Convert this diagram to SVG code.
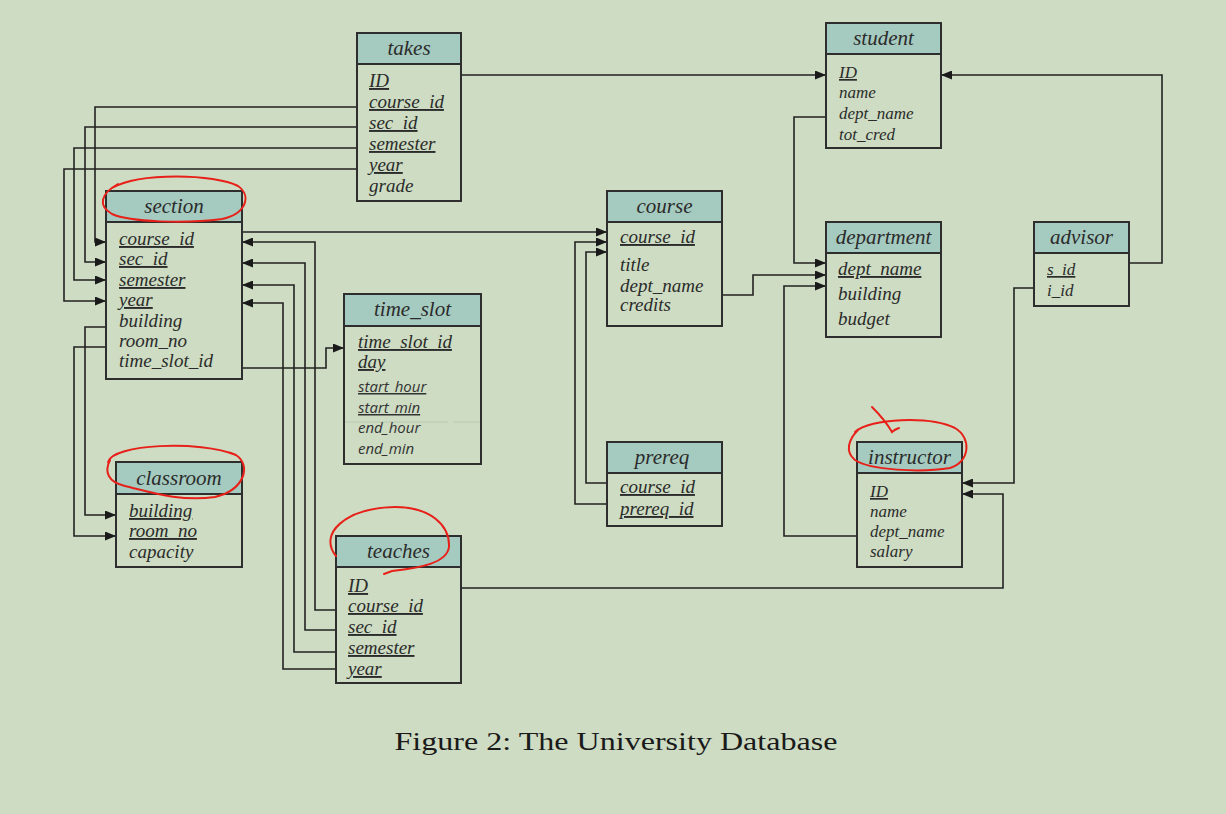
<svg xmlns="http://www.w3.org/2000/svg" width="1226" height="814" viewBox="0 0 1226 814">
<style>
.bx{fill:none;stroke:#2e2e2e;stroke-width:2}
.hd{fill:#a5cabf;stroke:#2e2e2e;stroke-width:2}
.t{font-family:"Liberation Serif",serif;font-style:italic;fill:#2b2b2b}
.ttl{font-size:21px;text-anchor:middle}
.r{font-size:19px}
.s{font-size:17px}
.u{text-decoration:underline}
.sans{font-family:"Open Sans",sans-serif;font-style:italic;font-size:15px;fill:#333}
.c{fill:none;stroke:#222;stroke-width:1.6;marker-end:url(#ah)}
.cn{fill:none;stroke:#222;stroke-width:1.6}
.red{fill:none;stroke:#e8201a;stroke-width:2;stroke-linecap:round}
.cap{font-family:"Liberation Serif",serif;font-size:26px;fill:#1a1a1a}
</style>
<defs>
<marker id="ah" markerUnits="userSpaceOnUse" markerWidth="11" markerHeight="9" refX="11" refY="4.5" orient="auto">
<path d="M0,0 L11,4.5 L0,9 z" fill="#1a1a1a"/>
</marker>
</defs>
<rect x="0" y="0" width="1226" height="814" fill="#cddcc2"/>

<g id="connectors">
<path class="c" d="M461,75 H826"/>
<path class="c" d="M357,107 H95 V242 H106"/>
<path class="c" d="M357,127 H85 V262 H106"/>
<path class="c" d="M357,148 H74 V280 H106"/>
<path class="c" d="M357,169 H64 V301 H106"/>
<path class="c" d="M242,232 H607"/>
<path class="c" d="M607,504 H575 V242 H607"/>
<path class="c" d="M607,483 H586 V252 H607"/>
<path class="c" d="M336,610 H315 V242 H242"/>
<path class="c" d="M336,630 H305 V263 H242"/>
<path class="c" d="M336,652 H294 V285 H242"/>
<path class="c" d="M336,669 H283 V303 H242"/>
<path class="c" d="M242,368 H326 V348 H344"/>
<path class="c" d="M106,327 H85 V515 H116"/>
<path class="c" d="M106,347 H74 V536 H116"/>
<path class="c" d="M826,117 H794 V263 H826"/>
<path class="c" d="M722,295 H753 V275 H826"/>
<path class="c" d="M857,536 H784 V286 H826"/>
<path class="c" d="M1129,263 H1162 V75 H941"/>
<path class="c" d="M1034,288 H1014 V483 H962"/>
<path class="c" d="M461,588 H1003 V494 H962"/>
</g>

<g id="takes">
<rect class="bx" x="357" y="33" width="104" height="168"/>
<rect class="hd" x="357" y="33" width="104" height="31"/>
<text class="t ttl" x="409" y="55">takes</text>
<text class="t r u" x="369" y="87">ID</text>
<text class="t r u" x="369" y="108">course_id</text>
<text class="t r u" x="369" y="129">sec_id</text>
<text class="t r u" x="369" y="150">semester</text>
<text class="t r u" x="369" y="171">year</text>
<text class="t r" x="369" y="192">grade</text>
</g>

<g id="student">
<rect class="bx" x="826" y="23" width="115" height="125"/>
<rect class="hd" x="826" y="23" width="115" height="31"/>
<text class="t ttl" x="883.5" y="45">student</text>
<text class="t s u" x="839" y="78">ID</text>
<text class="t s" x="839" y="98">name</text>
<text class="t s" x="839" y="119">dept_name</text>
<text class="t s" x="839" y="140">tot_cred</text>
</g>

<g id="section">
<rect class="bx" x="106" y="191" width="136" height="188"/>
<rect class="hd" x="106" y="191" width="136" height="31"/>
<text class="t ttl" x="174" y="213">section</text>
<text class="t r u" x="119" y="245">course_id</text>
<text class="t r u" x="119" y="265">sec_id</text>
<text class="t r u" x="119" y="286">semester</text>
<text class="t r u" x="119" y="306">year</text>
<text class="t r" x="119" y="327">building</text>
<text class="t r" x="119" y="347">room_no</text>
<text class="t r" x="119" y="367">time_slot_id</text>
</g>

<g id="time_slot">
<rect class="bx" x="344" y="294" width="137" height="170"/>
<rect class="hd" x="344" y="294" width="137" height="32"/>
<text class="t ttl" x="412.5" y="316">time_slot</text>
<text class="t r u" x="358" y="348">time_slot_id</text>
<text class="t r u" x="358" y="368">day</text>
<text class="sans u" x="358" y="392">start_hour</text>
<text class="sans u" x="358" y="413">start_min</text>
<line x1="345" y1="422" x2="448" y2="422" stroke="#b9c8b2" stroke-width="1"/>
<line x1="453" y1="422" x2="480" y2="422" stroke="#b9c8b2" stroke-width="1"/>
<text class="sans" x="358" y="433">end_hour</text>
<text class="sans" x="358" y="454">end_min</text>
</g>

<g id="classroom">
<rect class="bx" x="116" y="462" width="126" height="105"/>
<rect class="hd" x="116" y="462" width="126" height="32"/>
<text class="t ttl" x="179" y="485">classroom</text>
<text class="t r u" x="129" y="517">building</text>
<text class="t r u" x="129" y="537">room_no</text>
<text class="t r" x="129" y="558">capacity</text>
</g>

<g id="teaches">
<rect class="bx" x="336" y="536" width="125" height="147"/>
<rect class="hd" x="336" y="536" width="125" height="31"/>
<text class="t ttl" x="398.5" y="558">teaches</text>
<text class="t r u" x="348" y="592">ID</text>
<text class="t r u" x="348" y="612">course_id</text>
<text class="t r u" x="348" y="633">sec_id</text>
<text class="t r u" x="348" y="654">semester</text>
<text class="t r u" x="348" y="675">year</text>
</g>

<g id="course">
<rect class="bx" x="607" y="191" width="115" height="135"/>
<rect class="hd" x="607" y="191" width="115" height="31"/>
<text class="t ttl" x="664.5" y="213">course</text>
<text class="t r u" x="620" y="243">course_id</text>
<text class="t r" x="620" y="271">title</text>
<text class="t r" x="620" y="292">dept_name</text>
<text class="t r" x="620" y="311">credits</text>
</g>

<g id="prereq">
<rect class="bx" x="607" y="442" width="115" height="84"/>
<rect class="hd" x="607" y="442" width="115" height="31"/>
<text class="t ttl" x="662" y="464">prereq</text>
<text class="t r u" x="620" y="493">course_id</text>
<text class="t r u" x="620" y="515">prereq_id</text>
</g>

<g id="department">
<rect class="bx" x="826" y="222" width="115" height="115"/>
<rect class="hd" x="826" y="222" width="115" height="31"/>
<text class="t ttl" x="883.5" y="244">department</text>
<text class="t r u" x="838" y="275">dept_name</text>
<text class="t r" x="838" y="300">building</text>
<text class="t r" x="838" y="325">budget</text>
</g>

<g id="advisor">
<rect class="bx" x="1034" y="222" width="95" height="84"/>
<rect class="hd" x="1034" y="222" width="95" height="31"/>
<text class="t ttl" x="1081.5" y="244">advisor</text>
<text class="t s u" x="1047" y="275">s_id</text>
<text class="t s" x="1047" y="296">i_id</text>
</g>

<g id="instructor">
<rect class="bx" x="857" y="442" width="105" height="125"/>
<rect class="hd" x="857" y="442" width="105" height="31"/>
<text class="t ttl" x="909.5" y="464">instructor</text>
<text class="t s u" x="870" y="497">ID</text>
<text class="t s" x="870" y="517">name</text>
<text class="t s" x="870" y="537">dept_name</text>
<text class="t s" x="870" y="557">salary</text>
</g>

<g id="annotations">
<path class="red" d="M112,188 C140,172 215,174 238,186 C252,196 246,214 222,219 C185,224 130,222 112,214 C98,206 100,194 118,184"/>
<path class="red" d="M108,462 C112,444 200,440 236,455 C252,466 244,490 215,497 C180,502 150,492 125,486 C108,482 104,472 110,460"/>
<path class="red" d="M336,556 C318,534 345,508 395,507 C430,507 450,525 449,547 C447,563 420,568 392,571 L384,574"/>
<path class="red" d="M855,432 C870,418 930,416 955,428 C972,438 970,462 950,468 C920,473 870,470 855,460 C845,452 848,440 858,430"/>
<path class="red" d="M872,407 C880,415 888,425 892,432 C894,430 896,429 899,428"/>
</g>

<text class="cap" x="616" y="750" text-anchor="middle" textLength="443" lengthAdjust="spacingAndGlyphs">Figure 2: The University Database</text>
</svg>
